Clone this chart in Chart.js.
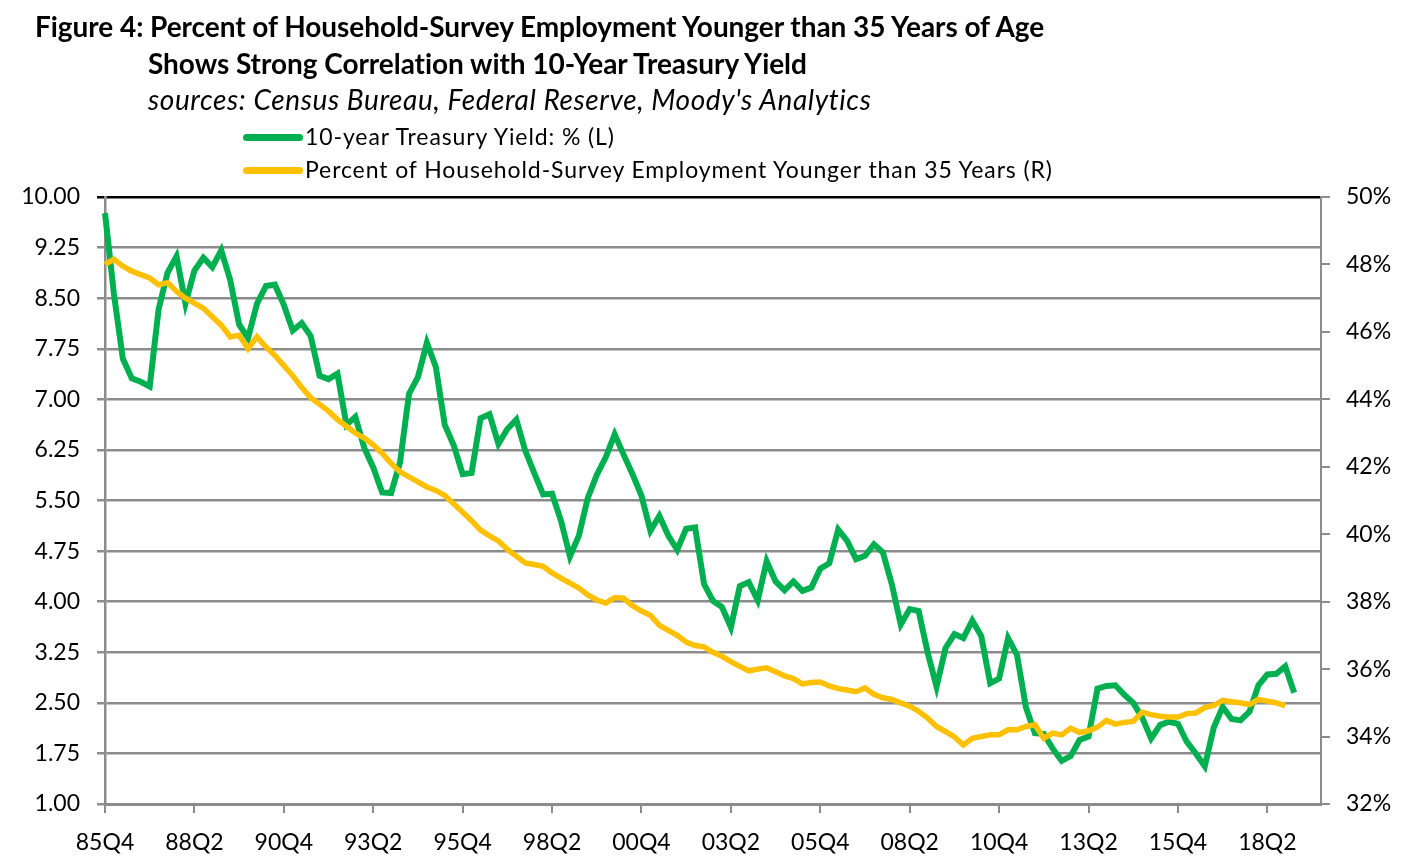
<!DOCTYPE html>
<html>
<head>
<meta charset="utf-8">
<script src="https://cdn.jsdelivr.net/npm/chart.js@4.4.0/dist/chart.umd.min.js"></script>
<style>
  body { margin: 0; background: #fff; font-family: Lato, "Open Sans", sans-serif; }
  #wrap { position: relative; width: 1410px; height: 863px; overflow: hidden; }
  #chart { position: absolute; left: 0; top: 0; }
  .t { position: absolute; white-space: nowrap; color: #000; }
  .title { font-weight: bold; font-size: 28px; letter-spacing: -0.05px; }
  .src { font-style: italic; font-size: 28px; letter-spacing: 0.6px; }
  .leg { font-size: 23px; letter-spacing: 0.9px; }
  .sw { position: absolute; height: 7px; border-radius: 4px; width: 60px; }
</style>
</head>
<body>
<div id="wrap">
  <canvas id="chart" width="1410" height="863"></canvas>
  <div class="t title" style="left:35px; top:9px;">Figure 4: Percent of Household-Survey Employment Younger than 35 Years of Age</div>
  <div class="t title" style="left:148px; top:46px;">Shows Strong Correlation with 10-Year Treasury Yield</div>
  <div class="t src" style="left:148px; top:82px;">sources: Census Bureau, Federal Reserve, Moody's Analytics</div>
  <div class="sw" style="left:243px; top:134px; background:#00B050;"></div>
  <div class="t leg" style="left:305px; top:122px;">10-year Treasury Yield: % (L)</div>
  <div class="sw" style="left:243px; top:167px; background:#FFC000;"></div>
  <div class="t leg" style="left:305px; top:155px;">Percent of Household-Survey Employment Younger than 35 Years (R)</div>
</div>
<script>
// quarters 85Q4 .. 19Q4
var quarters = [];
for (var yr = 1985; yr <= 2019; yr++) {
    for (var q = 1; q <= 4; q++) {
        if (yr === 1985 && q < 4) continue;
        quarters.push(String(yr).slice(2) + 'Q' + q);
    }
}

var xTickLabels = ['85Q4', '88Q2', '90Q4', '93Q2', '95Q4', '98Q2', '00Q4', '03Q2', '05Q4', '08Q2', '10Q4', '13Q2', '15Q4', '18Q2'];
var leftTicks = [1.00, 1.75, 2.50, 3.25, 4.00, 4.75, 5.50, 6.25, 7.00, 7.75, 8.50, 9.25, 10.00];
var rightTicks = [32, 34, 36, 38, 40, 42, 44, 46, 48, 50];

// 10-year Treasury yield, %, 85Q4 .. 19Q1
var treasuryYield = [
    9.76,
    8.56, 7.60, 7.31, 7.26,
    7.19, 8.34, 8.88, 9.12,
    8.42, 8.91, 9.10, 8.96,
    9.21, 8.77, 8.11, 7.91,
    8.42, 8.68, 8.70, 8.40,
    8.02, 8.13, 7.94, 7.35,
    7.30, 7.38, 6.62, 6.74,
    6.28, 5.99, 5.62, 5.61,
    6.07, 7.08, 7.33, 7.84,
    7.48, 6.62, 6.32, 5.89,
    5.91, 6.72, 6.78, 6.34,
    6.56, 6.70, 6.24, 5.91,
    5.59, 5.60, 5.20, 4.67,
    4.98, 5.54, 5.88, 6.14,
    6.48, 6.18, 5.89, 5.57,
    5.05, 5.27, 4.98, 4.77,
    5.08, 5.10, 4.26, 4.01,
    3.92, 3.62, 4.23, 4.29,
    4.02, 4.60, 4.30, 4.17,
    4.30, 4.16, 4.21, 4.49,
    4.57, 5.07, 4.90, 4.63,
    4.68, 4.85, 4.73, 4.26,
    3.66, 3.89, 3.86, 3.25,
    2.74, 3.31, 3.52, 3.46,
    3.72, 3.49, 2.79, 2.86,
    3.46, 3.21, 2.43, 2.05,
    2.04, 1.82, 1.64, 1.71,
    1.95, 2.00, 2.71, 2.75,
    2.76, 2.62, 2.50, 2.28,
    1.97, 2.17, 2.22, 2.19,
    1.92, 1.75, 1.56, 2.13,
    2.44, 2.26, 2.24, 2.37,
    2.76, 2.92, 2.93, 3.04,
    2.65
];

// share of household-survey employment younger than 35, %, 85Q4 .. 18Q4
var youngShare = [
    48.00,
    48.15, 47.95, 47.80, 47.70,
    47.60, 47.40, 47.46, 47.20,
    47.00, 46.85, 46.70, 46.45,
    46.20, 45.85, 45.90, 45.50,
    45.85, 45.55, 45.30, 45.00,
    44.70, 44.35, 44.05, 43.85,
    43.65, 43.40, 43.20, 43.00,
    42.85, 42.65, 42.40, 42.10,
    41.85, 41.70, 41.55, 41.40,
    41.30, 41.15, 40.90, 40.65,
    40.40, 40.12, 39.95, 39.80,
    39.55, 39.35, 39.15, 39.10,
    39.05, 38.85, 38.70, 38.55,
    38.40, 38.20, 38.05, 37.96,
    38.12, 38.10, 37.88, 37.72,
    37.60, 37.30, 37.15, 37.00,
    36.80, 36.70, 36.66, 36.50,
    36.38, 36.22, 36.08, 35.95,
    36.00, 36.04, 35.92, 35.80,
    35.72, 35.56, 35.60, 35.62,
    35.50, 35.42, 35.38, 35.33,
    35.44, 35.25, 35.15, 35.10,
    35.00, 34.90, 34.75, 34.55,
    34.30, 34.15, 33.99, 33.75,
    33.95, 34.00, 34.05, 34.05,
    34.20, 34.20, 34.30, 34.35,
    33.95, 34.10, 34.05, 34.25,
    34.12, 34.17, 34.28, 34.48,
    34.37, 34.42, 34.45, 34.72,
    34.65, 34.60, 34.58, 34.58,
    34.68, 34.70, 34.86, 34.92,
    35.07, 35.03, 35.00, 34.95,
    35.10, 35.05, 35.00, 34.92
];

var tickFont = { family: 'Lato', size: 23 };

new Chart(document.getElementById('chart').getContext('2d'), {
    type: 'line',
    data: {
        labels: quarters,
        datasets: [{
            label: 'Percent of Household-Survey Employment Younger than 35 Years (R)',
            data: youngShare,
            yAxisID: 'yR',
            borderColor: '#FFC000',
            borderWidth: 5.5,
            pointRadius: 0,
            tension: 0,
            order: 1
        }, {
            label: '10-year Treasury Yield: % (L)',
            data: treasuryYield,
            yAxisID: 'yL',
            borderColor: '#00B050',
            borderWidth: 6,
            pointRadius: 0,
            tension: 0,
            order: 2
        }]
    },
    options: {
        responsive: false,
        animation: false,
        devicePixelRatio: 1,
        layout: { padding: { top: 197, left: 0, right: 0, bottom: 0 } },
        plugins: { legend: { display: false }, tooltip: { enabled: false } },
        scales: {
            x: {
                type: 'category',
                offset: false,
                afterFit: function(s) { s.height = 59; },
                grid: {
                    drawOnChartArea: false,
                    tickLength: 9,
                    lineWidth: 2,
                    color: function(ctx) { return ctx.index % 10 === 0 ? '#8c8c8c' : 'rgba(0,0,0,0)'; }
                },
                border: { display: true, color: '#8c8c8c', width: 3 },
                ticks: {
                    autoSkip: false,
                    maxRotation: 0,
                    padding: 16,
                    color: '#000',
                    font: tickFont,
                    callback: function(v, i) {
                        var lab = quarters[i];
                        return xTickLabels.indexOf(lab) >= 0 ? lab : '';
                    }
                }
            },
            yL: {
                position: 'left',
                min: leftTicks[0],
                max: leftTicks[leftTicks.length - 1],
                afterFit: function(s) { s.width = 105; },
                afterBuildTicks: function(s) { s.ticks = leftTicks.map(function(v) { return { value: v }; }); },
                grid: {
                    tickLength: 8,
                    lineWidth: 2.5,
                    color: function(ctx) { return ctx.tick && ctx.tick.value === 10 ? '#000' : '#8c8c8c'; }
                },
                border: { display: true, color: '#8c8c8c', width: 2.5 },
                ticks: {
                    padding: 17,
                    color: '#000',
                    font: tickFont,
                    callback: function(v) { return v.toFixed(2); }
                }
            },
            yR: {
                position: 'right',
                min: rightTicks[0],
                max: rightTicks[rightTicks.length - 1],
                afterFit: function(s) { s.width = 89; },
                afterBuildTicks: function(s) { s.ticks = rightTicks.map(function(v) { return { value: v }; }); },
                grid: {
                    drawOnChartArea: false,
                    tickLength: 9,
                    lineWidth: 2,
                    color: '#8c8c8c'
                },
                border: { display: true, color: '#8c8c8c', width: 2 },
                ticks: {
                    padding: 16,
                    color: '#000',
                    font: tickFont,
                    callback: function(v) { return v + '%'; }
                }
            }
        }
    }
});
</script>
</body>
</html>
